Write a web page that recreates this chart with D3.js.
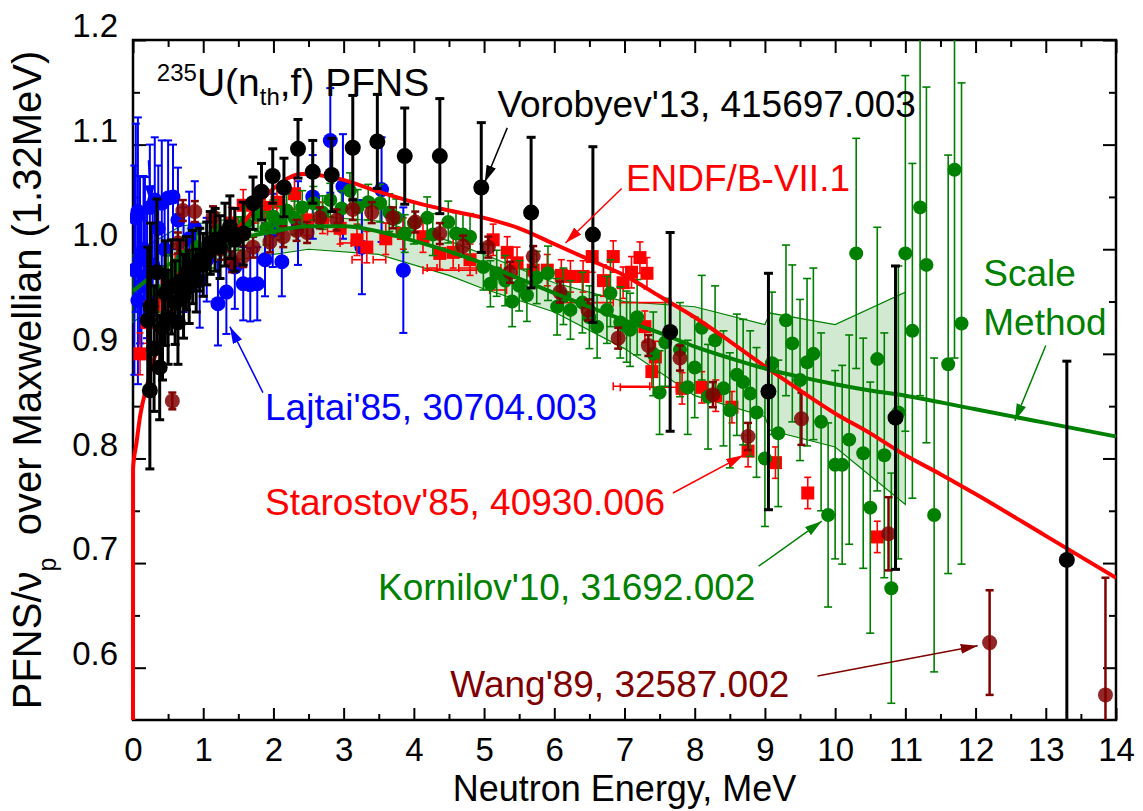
<!DOCTYPE html>
<html><head><meta charset="utf-8">
<script src="https://cdn.jsdelivr.net/npm/d3@7"></script>
<style>
body{margin:0;background:#fff}
svg{display:block}
text{font-family:"Liberation Sans",Arial,Helvetica,sans-serif}
</style>
</head><body>
<svg id="chart" width="1143" height="811"></svg>
<script>
// ---------------- data ----------------
const energyTicks = [0,1,2,3,4,5,6,7,8,9,10,11,12,13,14];
const energyMinorTicks = [0.5,1.5,2.5,3.5,4.5,5.5,6.5,7.5,8.5,9.5,10.5,11.5,12.5,13.5];
const ratioTicks = [0.6,0.7,0.8,0.9,1.0,1.1,1.2];
const ratioMinorTicks = [0.65,0.75,0.85,0.95,1.05,1.15];

// [E (MeV), ratio, error]
const vorobyev13 = [[0.21,0.932,0.07],[0.24,0.865,0.075],[0.25,0.945,0.08],[0.3,0.905,0.06],[0.34,0.978,0.07],[0.38,0.887,0.05],[0.42,0.925,0.05],[0.46,0.958,0.05],[0.5,0.935,0.045],[0.55,0.964,0.045],[0.6,0.949,0.04],[0.64,0.93,0.04],[0.67,0.969,0.04],[0.72,0.955,0.04],[0.76,0.977,0.035],[0.8,0.964,0.035],[0.85,0.983,0.035],[0.9,0.97,0.03],[0.95,0.99,0.03],[1.0,0.985,0.03],[1.05,0.996,0.03],[1.1,1.006,0.03],[1.17,1.009,0.03],[1.24,1.002,0.03],[1.31,1.014,0.03],[1.38,1.021,0.03],[1.45,1.009,0.03],[1.57,1.015,0.03],[1.71,1.044,0.025],[1.83,1.055,0.027],[1.99,1.07,0.026],[2.15,1.059,0.028],[2.35,1.096,0.028],[2.56,1.074,0.03],[2.83,1.071,0.035],[3.13,1.097,0.05],[3.48,1.103,0.045],[3.87,1.089,0.046],[4.37,1.089,0.055],[4.96,1.059,0.062],[5.67,1.035,0.072],[6.55,1.014,0.084],[7.65,0.921,0.095],[9.05,0.864,0.113],[10.86,0.839,0.145],[13.3,0.703,0.19]];

const lajtai85 = [[0.02,0.98,0.1],[0.04,1.03,0.09],[0.07,1.036,0.09],[0.07,0.951,0.08],[0.1,0.99,0.08],[0.12,0.965,0.07],[0.15,1.0,0.07],[0.17,0.999,0.07],[0.2,0.975,0.06],[0.24,1.04,0.06],[0.28,0.985,0.06],[0.31,1.047,0.06],[0.36,1.02,0.06],[0.41,1.044,0.06],[0.45,1.0,0.05],[0.5,1.049,0.055],[0.57,1.05,0.05],[0.64,1.028,0.05],[0.72,0.99,0.05],[0.8,1.01,0.045],[0.88,1.02,0.045],[0.95,0.97,0.045],[1.05,0.99,0.04],[1.21,0.948,0.04],[1.33,0.959,0.04],[1.45,0.983,0.04],[1.57,0.967,0.035],[1.67,0.966,0.035],[1.77,0.967,0.035],[1.88,0.99,0.035],[1.99,1.018,0.035],[2.12,0.988,0.033],[2.35,1.025,0.04],[2.56,1.05,0.04],[2.81,1.104,0.05],[2.99,1.06,0.05],[3.26,1.002,0.045],[3.54,1.057,0.05],[3.85,0.98,0.06]];

const starostov85 = [[0.1,0.9,0.02],[0.2,0.93,0.02],[0.3,0.945,0.02],[0.4,0.955,0.02],[0.5,0.965,0.02],[0.6,0.975,0.02],[0.75,0.985,0.015],[0.9,0.99,0.015],[1.05,1.0,0.015],[1.2,1.01,0.015],[1.4,1.025,0.015],[1.57,1.042,0.015],[1.75,1.04,0.015],[1.88,1.04,0.015],[2.05,1.045,0.015],[2.3,1.053,0.015],[2.48,1.028,0.015],[2.7,1.03,0.015],[2.95,1.02,0.015],[3.19,1.009,0.015],[3.33,1.002,0.015],[3.6,1.01,0.015],[3.85,1.015,0.015],[4.13,1.012,0.015],[4.37,0.996,0.015],[4.56,0.997,0.015],[4.8,0.99,0.015],[5.13,1.009,0.015],[5.33,0.997,0.015],[5.47,0.987,0.015],[5.7,0.98,0.015],[5.9,0.98,0.015],[6.1,0.975,0.015],[6.23,0.974,0.015],[6.41,0.974,0.015],[6.54,0.993,0.015],[6.7,0.97,0.015],[6.84,0.993,0.015],[6.98,0.968,0.015],[7.1,0.978,0.015],[7.22,0.992,0.015],[7.32,0.977,0.015],[7.29,0.926,0.015],[7.44,0.897,0.015],[7.39,0.883,0.015],[7.82,0.867,0.015],[8.1,0.868,0.015],[8.3,0.86,0.015],[8.53,0.849,0.015],[8.76,0.807,0.015],[9.15,0.796,0.015],[9.61,0.767,0.015],[10.6,0.725,0.015]];
// [E, ratio, energy half-width] points shown only by their horizontal bars
const starostov85Wide = [[2.85,1.017,0.08],[3.03,1.006,0.08],[3.19,0.99,0.07],[3.51,0.99,0.09],[4.26,0.982,0.07],[4.51,0.98,0.38],[4.94,0.982,0.3],[5.2,0.961,0.12],[6.46,0.949,0.38],[7.1,0.869,0.26],[7.34,0.868,0.4],[7.3,0.949,0.36]];

const kornilov10 = [[0.35,0.96,0.02],[0.5,0.975,0.02],[0.62,0.985,0.02],[0.74,0.993,0.018],[0.91,1.002,0.018],[1.1,0.999,0.017],[1.19,1.018,0.017],[1.33,1.006,0.016],[1.5,1.015,0.016],[1.6,1.025,0.016],[1.78,1.033,0.016],[1.9,1.02,0.016],[2.0,1.031,0.016],[2.1,1.025,0.016],[2.19,1.037,0.016],[2.3,1.03,0.016],[2.41,1.04,0.016],[2.57,1.044,0.016],[2.7,1.035,0.016],[2.81,1.047,0.016],[2.97,1.039,0.017],[3.09,1.056,0.017],[3.2,1.04,0.017],[3.35,1.045,0.017],[3.52,1.044,0.018],[3.65,1.035,0.018],[3.75,1.03,0.018],[3.87,1.015,0.018],[4.0,1.025,0.02],[4.19,1.03,0.02],[4.27,1.014,0.02],[4.49,1.026,0.02],[4.6,1.015,0.02],[4.7,1.014,0.02],[4.8,1.012,0.022],[4.99,0.983,0.022],[5.09,0.967,0.022],[5.18,0.977,0.022],[5.3,0.97,0.024],[5.4,0.95,0.024],[5.5,0.965,0.024],[5.61,0.956,0.025],[5.75,0.973,0.025],[5.91,0.977,0.026],[6.04,0.945,0.027],[6.13,0.955,0.027],[6.23,0.942,0.028],[6.4,0.949,0.029],[6.5,0.935,0.03],[6.61,0.926,0.03],[6.75,0.942,0.032],[6.8,0.958,0.032],[6.94,0.93,0.034],[7.03,0.926,0.034],[7.08,0.923,0.035],[7.18,0.935,0.036],[7.41,0.9,0.04],[7.5,0.863,0.04],[7.58,0.911,0.042],[7.79,0.904,0.045],[7.9,0.868,0.045],[8.0,0.887,0.048],[8.1,0.925,0.05],[8.19,0.859,0.05],[8.29,0.913,0.052],[8.41,0.867,0.055],[8.5,0.846,0.055],[8.6,0.88,0.058],[8.69,0.873,0.06],[8.79,0.862,0.06],[8.88,0.844,0.062],[9.0,0.8,0.065],[9.1,0.891,0.068],[9.19,0.824,0.07],[9.3,0.932,0.072],[9.39,0.91,0.075],[9.5,0.875,0.077],[9.6,0.892,0.08],[9.69,0.9,0.082],[9.8,0.835,0.085],[9.9,0.746,0.088],[10.0,0.794,0.09],[10.1,0.794,0.095],[10.2,0.818,0.1],[10.3,0.996,0.11],[10.4,0.805,0.11],[10.5,0.753,0.12],[10.6,0.895,0.126],[10.7,0.803,0.117],[10.8,0.676,0.11],[10.9,0.844,0.14],[11.0,0.996,0.17],[11.1,0.922,0.16],[11.21,1.04,0.18],[11.3,0.985,0.17],[11.41,0.746,0.15],[11.61,0.89,0.2],[11.7,1.076,0.18],[11.8,0.929,0.23]];

const wang89 = [[0.56,0.855,0.008],[0.64,1.006,0.01],[0.71,1.037,0.01],[0.88,1.036,0.01],[1.14,1.031,0.01],[1.25,1.0,0.01],[1.41,0.988,0.01],[1.57,0.993,0.01],[1.71,1.002,0.01],[1.95,1.007,0.01],[2.14,1.012,0.01],[2.33,1.018,0.01],[2.48,1.016,0.01],[2.66,1.03,0.01],[2.9,1.028,0.01],[3.13,1.038,0.01],[3.4,1.035,0.01],[3.7,1.03,0.01],[4.02,1.026,0.01],[4.37,1.015,0.01],[4.7,1.003,0.01],[5.06,1.002,0.01],[5.37,0.978,0.01],[5.7,0.993,0.01],[6.08,0.959,0.01],[6.48,0.942,0.01],[6.91,0.915,0.01],[7.34,0.908,0.01],[7.79,0.896,0.012],[8.26,0.861,0.012],[8.76,0.821,0.013],[9.52,0.838,0.025],[10.76,0.728,0.035],[12.2,0.624,0.05],[13.85,0.574,0.112]];

const endfE = [0,0.001,0.05,0.1,0.2,0.3,0.5,0.75,1.0,1.5,2.0,2.4,2.9,3.5,4.0,4.5,5.0,5.5,6.0,6.5,7.0,7.5,8.0,8.5,9.0,9.5,10,10.5,11,11.5,12,13,14];
const endfV = [0.55,0.79,0.815,0.84,0.87,0.895,0.93,0.958,0.983,1.02,1.058,1.072,1.068,1.055,1.045,1.037,1.03,1.02,1.005,0.99,0.975,0.955,0.935,0.912,0.888,0.865,0.843,0.824,0.803,0.785,0.766,0.726,0.686];

const scaleE = [0,0.25,0.5,0.75,1.0,1.5,2.0,2.5,3.0,3.5,4.0,4.5,5.0,5.5,6.0,6.5,7.0,7.5,8.0,8.5,9.0,9.5,10,10.5,11,12,13,14];
const scaleV = [0.96,0.973,0.985,0.994,1.0,1.01,1.017,1.022,1.022,1.017,1.008,0.998,0.986,0.972,0.958,0.945,0.932,0.92,0.907,0.896,0.886,0.878,0.871,0.865,0.86,0.847,0.834,0.821];

const bandE  = [0,0.67,1.5,2.5,3.5,4.5,5.0,6.0,7.0,8.0,9.0,9.07,10.0,11.0];
const bandLo = [0.93,0.965,0.99,1.0,0.995,0.975,0.962,0.94,0.905,0.86,0.84,0.827,0.811,0.756];
const bandHi = [0.995,1.022,1.03,1.032,1.027,1.008,0.995,0.968,0.95,0.945,0.928,0.939,0.928,0.959];

// ---------------- layout ----------------
const X = d3.scaleLinear().domain([0,14]).range([133,1116]);
const Y = d3.scaleLinear().domain([0.55,1.2]).range([720,40]);
const C = {blue:"#0000ff", red:"#ff0000", green:"#008000", maroon:"#800000", black:"#000000"};

const svg = d3.select("#chart");
const defs = svg.append("defs");
defs.append("clipPath").attr("id","clip").append("rect")
  .attr("x",X(0)-3).attr("y",Y(1.2)).attr("width",X(14)-X(0)+3).attr("height",Y(0.55)-Y(1.2));
Object.entries(C).forEach(([k,c])=>{
  defs.append("marker").attr("id","arr-"+k).attr("markerUnits","userSpaceOnUse")
    .attr("markerWidth",18).attr("markerHeight",12).attr("refX",17).attr("refY",5)
    .attr("orient","auto").append("path").attr("d","M0,0 L17,5 L0,10 Z").attr("fill",c);
});

// frame and ticks
svg.append("rect").attr("x",X(0)).attr("y",Y(1.2)).attr("width",X(14)-X(0)).attr("height",Y(0.55)-Y(1.2))
  .attr("fill","none").attr("stroke","#000").attr("stroke-width",2.5);
function tickAxis(axis, tr, vals, size){
  const g = svg.append("g").attr("transform",tr)
    .call(axis.tickValues(vals).tickSize(size).tickFormat(""));
  g.select(".domain").remove();
  g.selectAll("line").attr("stroke","#000").attr("stroke-width",2);
}
tickAxis(d3.axisBottom(X), `translate(0,${Y(0.55)})`, energyTicks, -12);
tickAxis(d3.axisBottom(X), `translate(0,${Y(0.55)})`, energyMinorTicks, -6);
tickAxis(d3.axisTop(X), `translate(0,${Y(1.2)})`, energyTicks, -13);
tickAxis(d3.axisTop(X), `translate(0,${Y(1.2)})`, energyMinorTicks, -7);
tickAxis(d3.axisLeft(Y), `translate(${X(0)},0)`, ratioTicks, -13);
tickAxis(d3.axisLeft(Y), `translate(${X(0)},0)`, ratioMinorTicks, -7);
tickAxis(d3.axisRight(Y), `translate(${X(14)},0)`, ratioTicks, -13);
tickAxis(d3.axisRight(Y), `translate(${X(14)},0)`, ratioMinorTicks, -7);

// tick labels
const xl = svg.append("g").attr("transform",`translate(0,${Y(0.55)})`)
  .call(d3.axisBottom(X).tickValues(energyTicks).tickSize(0).tickPadding(18).tickFormat(d3.format("d")));
xl.select(".domain").remove();
xl.selectAll("text").attr("font-size",33).attr("fill","#000").attr("font-family",'"Liberation Sans",Arial,sans-serif');
const yl = svg.append("g").attr("transform",`translate(${X(0)},0)`)
  .call(d3.axisLeft(Y).tickValues(ratioTicks).tickSize(0).tickPadding(15).tickFormat(d3.format(".1f")));
yl.select(".domain").remove();
yl.selectAll("text").attr("font-size",33).attr("fill","#000").attr("dy","-0.1em").attr("font-family",'"Liberation Sans",Arial,sans-serif');

// axis titles
svg.append("text").attr("x",(X(0)+X(14))/2).attr("y",801).attr("text-anchor","middle")
  .attr("font-size",36).text("Neutron Energy, MeV");
const yt = svg.append("text").attr("transform",`translate(41,${(Y(0.55)+Y(1.2))/2}) rotate(-90)`)
  .attr("text-anchor","middle").attr("font-size",40).style("white-space","pre");
yt.append("tspan").text("PFNS/\u03bd");
yt.append("tspan").attr("font-size",25).attr("dy",15).text("p");
yt.append("tspan").attr("dy",-15).text("  over Maxwellian (1.32MeV)");

// ---------------- plot content ----------------
const plot = svg.append("g").attr("clip-path","url(#clip)");

const bandData = bandE.map((e,i)=>[e,bandLo[i],bandHi[i]]);
plot.append("path").datum(bandData)
  .attr("d",d3.area().x(d=>X(d[0])).y0(d=>Y(d[1])).y1(d=>Y(d[2])))
  .attr("fill","rgba(0,128,0,0.18)").attr("stroke",C.green).attr("stroke-width",1.2);

function errorBars(data, color, sw, cap){
  const g = plot.append("g").attr("stroke",color).attr("stroke-width",sw);
  g.selectAll(null).data(data).join("line")
    .attr("x1",d=>X(d[0])).attr("x2",d=>X(d[0])).attr("y1",d=>Y(d[1]-d[2])).attr("y2",d=>Y(d[1]+d[2]));
  g.selectAll(null).data(data).join("line")
    .attr("x1",d=>X(d[0])-cap).attr("x2",d=>X(d[0])+cap).attr("y1",d=>Y(d[1]-d[2])).attr("y2",d=>Y(d[1]-d[2]));
  g.selectAll(null).data(data).join("line")
    .attr("x1",d=>X(d[0])-cap).attr("x2",d=>X(d[0])+cap).attr("y1",d=>Y(d[1]+d[2])).attr("y2",d=>Y(d[1]+d[2]));
}
function circles(data, color, r, op){
  plot.append("g").selectAll(null).data(data).join("circle")
    .attr("cx",d=>X(d[0])).attr("cy",d=>Y(d[1])).attr("r",r).attr("fill",color).attr("fill-opacity",op||1);
}

// Lajtai'85
errorBars(lajtai85, C.blue, 2, 4);
circles(lajtai85, C.blue, 7.5);

// Starostov'85
const sw = plot.append("g").attr("stroke",C.red).attr("stroke-width",1.6);
sw.selectAll(null).data(starostov85Wide).join("line")
  .attr("x1",d=>X(d[0]-d[2])).attr("x2",d=>X(d[0]+d[2])).attr("y1",d=>Y(d[1])).attr("y2",d=>Y(d[1]));
sw.selectAll(null).data(starostov85Wide).join("line")
  .attr("x1",d=>X(d[0]-d[2])).attr("x2",d=>X(d[0]-d[2])).attr("y1",d=>Y(d[1])-4).attr("y2",d=>Y(d[1])+4);
sw.selectAll(null).data(starostov85Wide).join("line")
  .attr("x1",d=>X(d[0]+d[2])).attr("x2",d=>X(d[0]+d[2])).attr("y1",d=>Y(d[1])-4).attr("y2",d=>Y(d[1])+4);
errorBars(starostov85, C.red, 1.6, 3.5);
plot.append("g").selectAll(null).data(starostov85).join("rect")
  .attr("x",d=>X(d[0])-6.5).attr("y",d=>Y(d[1])-6.5).attr("width",13).attr("height",13).attr("fill",C.red);

// Kornilov'10
errorBars(kornilov10, C.green, 1.6, 4);
circles(kornilov10, C.green, 7);

// Wang'89
errorBars(wang89, C.maroon, 2.5, 4);
circles(wang89, C.maroon, 7.5, 0.85);

// evaluated curves
plot.append("path").datum(endfE.map((e,i)=>[e,endfV[i]]))
  .attr("d",d3.line().x(d=>X(d[0])).y(d=>Y(d[1])).curve(d3.curveMonotoneX))
  .attr("fill","none").attr("stroke",C.red).attr("stroke-width",4);
plot.append("path").datum(scaleE.map((e,i)=>[e,scaleV[i]]))
  .attr("d",d3.line().x(d=>X(d[0])).y(d=>Y(d[1])).curve(d3.curveMonotoneX))
  .attr("fill","none").attr("stroke",C.green).attr("stroke-width",4);

// Vorobyev'13
errorBars(vorobyev13, C.black, 3, 4.5);
circles(vorobyev13, C.black, 8);

// ---------------- annotations ----------------
const notes = [
  {t:"Vorobyev'13, 415697.003", e:5.19, v:1.126, c:"black", a:[5.33,1.116,5.01,1.064]},
  {t:"ENDF/B-VII.1", e:7.02, v:1.056, c:"red", a:[6.96,1.058,6.16,1.006]},
  {t:"Lajtai'85, 30704.003", e:1.88, v:0.837, c:"blue", a:[1.85,0.863,1.38,0.926]},
  {t:"Starostov'85, 40930.006", e:1.88, v:0.746, c:"red", a:[7.69,0.767,8.69,0.803]},
  {t:"Kornilov'10, 31692.002", e:3.49, v:0.665, c:"green", a:[8.91,0.697,9.81,0.74]},
  {t:"Wang'89, 32587.002", e:4.52, v:0.572, c:"maroon", a:[9.75,0.592,12.03,0.621]},
  {t:"Scale", e:12.11, v:0.965, c:"green", a:[13.0,0.908,12.56,0.836]},
  {t:"Method", e:12.11, v:0.918, c:"green", a:null}
];
notes.forEach(n=>{
  svg.append("text").attr("x",X(n.e)).attr("y",Y(n.v)).attr("font-size",37).attr("fill",C[n.c]).text(n.t);
  if(n.a) svg.append("line").attr("x1",X(n.a[0])).attr("y1",Y(n.a[1])).attr("x2",X(n.a[2])).attr("y2",Y(n.a[3]))
    .attr("stroke",C[n.c]).attr("stroke-width",1.5).attr("marker-end",`url(#arr-${n.c})`);
});
// extra short Lajtai pointer
svg.append("line").attr("x1",X(0.22)).attr("y1",Y(1.085)).attr("x2",X(0.25)).attr("y2",Y(1.045))
  .attr("stroke",C.blue).attr("stroke-width",1.5).attr("marker-end","url(#arr-blue)");

// title
const tt = svg.append("text").attr("x",X(0.34)).attr("y",Y(1.146)).attr("font-size",39).attr("fill","#000");
tt.append("tspan").attr("font-size",24).attr("dy",-15).text("235");
tt.append("tspan").attr("dy",15).text("U(n");
tt.append("tspan").attr("font-size",24).attr("dy",9).text("th");
tt.append("tspan").attr("dy",-9).text(",f) PFNS");
</script>
</body></html>
